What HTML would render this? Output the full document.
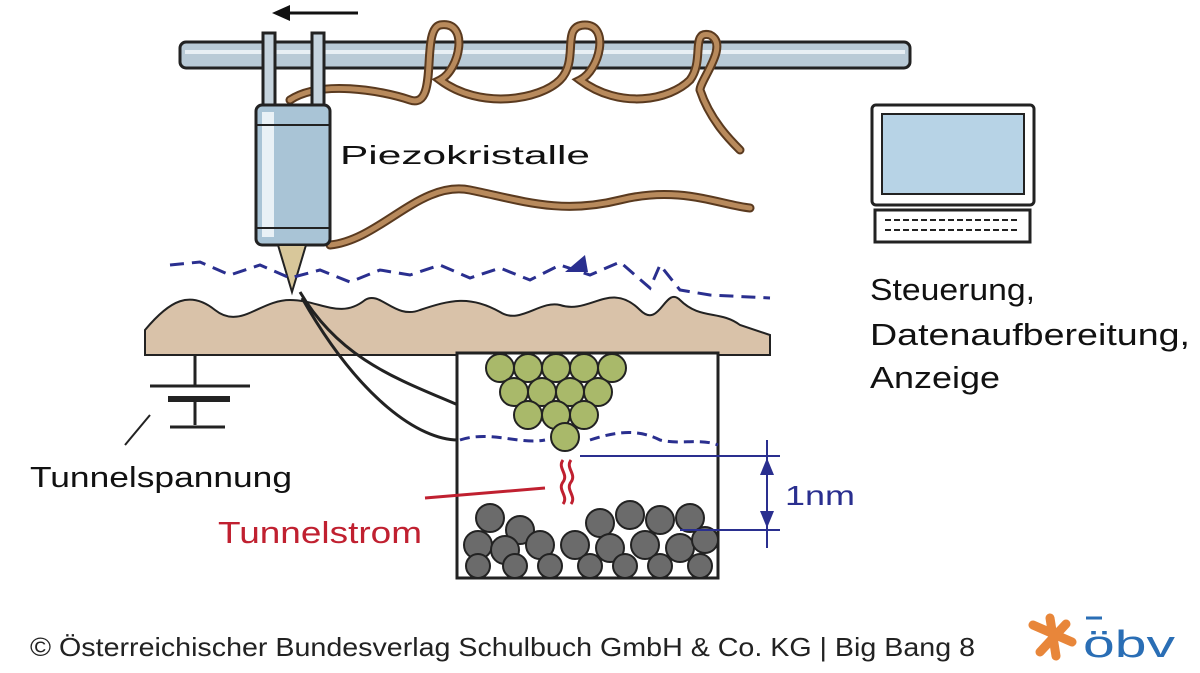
<!DOCTYPE html>
<html><head><meta charset="utf-8"><style>
body{margin:0;background:#fff;}
svg{display:block;}
text{font-family:"Liberation Sans",sans-serif;}
</style></head><body>
<svg width="1200" height="673" viewBox="0 0 1200 673" xmlns="http://www.w3.org/2000/svg">
<line x1="358" y1="13" x2="285" y2="13" stroke="#111" stroke-width="3"/>
<polygon points="272,13 290,5 290,21" fill="#111"/>
<rect x="180" y="42" width="730" height="26" rx="6" fill="#b9cad6" stroke="#222" stroke-width="3"/>
<line x1="185" y1="52" x2="905" y2="52" stroke="#e8eff4" stroke-width="4"/>
<g fill="none" stroke="#5a3a1f" stroke-width="9" stroke-linecap="round">
<path d="M290,100 C320,80 380,90 410,100 C440,110 420,30 440,25 C470,20 460,70 440,80 C480,110 540,100 560,80 C580,60 560,25 585,25 C610,25 600,70 580,80 C620,110 670,100 690,80 C705,60 690,30 710,35 C730,45 700,80 700,90 C710,120 730,140 740,150"/>
<path d="M330,245 C380,240 420,180 470,190 C520,200 560,215 620,200 C680,185 720,205 750,208"/>
</g>
<g fill="none" stroke="#b88a5c" stroke-width="5" stroke-linecap="round">
<path d="M290,100 C320,80 380,90 410,100 C440,110 420,30 440,25 C470,20 460,70 440,80 C480,110 540,100 560,80 C580,60 560,25 585,25 C610,25 600,70 580,80 C620,110 670,100 690,80 C705,60 690,30 710,35 C730,45 700,80 700,90 C710,120 730,140 740,150"/>
<path d="M330,245 C380,240 420,180 470,190 C520,200 560,215 620,200 C680,185 720,205 750,208"/>
</g>
<rect x="263" y="33" width="12" height="75" fill="#c6d4de" stroke="#222" stroke-width="3"/>
<rect x="312" y="33" width="12" height="75" fill="#c6d4de" stroke="#222" stroke-width="3"/>
<rect x="256" y="105" width="74" height="140" rx="6" fill="#a9c4d6" stroke="#222" stroke-width="3"/>
<rect x="262" y="112" width="12" height="125" fill="#e9f1f6"/>
<line x1="256" y1="125" x2="330" y2="125" stroke="#222" stroke-width="2"/>
<line x1="256" y1="228" x2="330" y2="228" stroke="#222" stroke-width="2"/>
<polygon points="278,245 306,245 292,292" fill="#d8c79a" stroke="#222" stroke-width="2"/>
<text x="340" y="164" font-size="26" fill="#111" textLength="250" lengthAdjust="spacingAndGlyphs">Piezokristalle</text>
<path d="M145,355 L145,330 C170,300 190,290 215,310 C240,330 260,300 290,300 C320,300 340,320 365,300 C380,290 395,320 420,310 C450,300 470,295 500,312 C520,325 540,300 560,305 C590,315 610,280 640,310 C660,330 665,285 680,300 C700,320 720,310 740,325 L770,335 L770,355 Z" fill="#d9c2a9" stroke="#222" stroke-width="2"/>
<path d="M170,265 L200,262 L230,275 L260,265 L290,278 L320,270 L350,282 L380,270 L410,275 L440,265 L470,278 L500,268 L530,280 L560,265 L590,275 L620,262 L650,288 L660,265 L680,290 L710,295 L770,298" fill="none" stroke="#2a2f8f" stroke-width="3" stroke-dasharray="14,8"/>
<polygon points="565,272 585,255 588,272" fill="#2a2f8f"/>
<path d="M300,292 C340,360 400,380 458,405" fill="none" stroke="#222" stroke-width="3"/>
<path d="M302,298 C360,400 420,440 458,440" fill="none" stroke="#222" stroke-width="3"/>
<rect x="457" y="353" width="261" height="225" fill="#fff" stroke="#222" stroke-width="3"/>
<g fill="#a9b96a" stroke="#222" stroke-width="2">
<circle cx="500" cy="368" r="14"/><circle cx="528" cy="368" r="14"/><circle cx="556" cy="368" r="14"/><circle cx="584" cy="368" r="14"/><circle cx="612" cy="368" r="14"/>
<circle cx="514" cy="392" r="14"/><circle cx="542" cy="392" r="14"/><circle cx="570" cy="392" r="14"/><circle cx="598" cy="392" r="14"/>
<circle cx="528" cy="415" r="14"/><circle cx="556" cy="415" r="14"/><circle cx="584" cy="415" r="14"/>
<circle cx="565" cy="437" r="14"/>
</g>
<path d="M460,440 C490,430 520,445 545,440 M590,440 C620,430 640,430 660,440 C680,445 700,438 718,445" fill="none" stroke="#2a2f8f" stroke-width="3" stroke-dasharray="10,6"/>
<path d="M563,460 c-6,8 6,14 0,22 c-6,8 6,14 0,22 M571,460 c-6,8 6,14 0,22 c-6,8 6,14 0,22" fill="none" stroke="#c02030" stroke-width="3"/>
<g fill="#6b6b6b" stroke="#222" stroke-width="2">
<circle cx="490" cy="518" r="14"/><circle cx="520" cy="530" r="14"/><circle cx="600" cy="523" r="14"/><circle cx="630" cy="515" r="14"/><circle cx="660" cy="520" r="14"/><circle cx="690" cy="518" r="14"/>
<circle cx="478" cy="545" r="14"/><circle cx="505" cy="550" r="14"/><circle cx="540" cy="545" r="14"/><circle cx="575" cy="545" r="14"/><circle cx="610" cy="548" r="14"/><circle cx="645" cy="545" r="14"/><circle cx="680" cy="548" r="14"/><circle cx="705" cy="540" r="13"/>
<circle cx="478" cy="566" r="12"/><circle cx="515" cy="566" r="12"/><circle cx="550" cy="566" r="12"/><circle cx="590" cy="566" r="12"/><circle cx="625" cy="566" r="12"/><circle cx="660" cy="566" r="12"/><circle cx="700" cy="566" r="12"/>
</g>
<line x1="580" y1="456" x2="780" y2="456" stroke="#2a2f8f" stroke-width="2"/>
<line x1="680" y1="530" x2="780" y2="530" stroke="#2a2f8f" stroke-width="2"/>
<line x1="767" y1="440" x2="767" y2="548" stroke="#2a2f8f" stroke-width="2"/>
<polygon points="767,458 760,475 774,475" fill="#2a2f8f"/>
<polygon points="767,528 760,511 774,511" fill="#2a2f8f"/>
<text x="785" y="505" font-size="28" fill="#2a2f8f" textLength="70" lengthAdjust="spacingAndGlyphs">1nm</text>
<line x1="195" y1="355" x2="195" y2="386" stroke="#222" stroke-width="3"/>
<line x1="150" y1="386" x2="250" y2="386" stroke="#222" stroke-width="3"/>
<line x1="168" y1="399" x2="230" y2="399" stroke="#222" stroke-width="6"/>
<line x1="195" y1="399" x2="195" y2="425" stroke="#222" stroke-width="3"/>
<line x1="170" y1="427" x2="225" y2="427" stroke="#222" stroke-width="3"/>
<line x1="150" y1="415" x2="125" y2="445" stroke="#222" stroke-width="2"/>
<text x="30" y="487" font-size="29" fill="#111" textLength="262" lengthAdjust="spacingAndGlyphs">Tunnelspannung</text>
<line x1="425" y1="498" x2="545" y2="488" stroke="#c02030" stroke-width="3"/>
<text x="218" y="543" font-size="31" fill="#c02030" textLength="204" lengthAdjust="spacingAndGlyphs">Tunnelstrom</text>
<rect x="872" y="105" width="162" height="100" rx="4" fill="#fff" stroke="#222" stroke-width="3"/>
<rect x="882" y="114" width="142" height="80" fill="#b7d3e6" stroke="#222" stroke-width="2"/>
<rect x="875" y="210" width="155" height="32" fill="#fff" stroke="#222" stroke-width="3"/>
<line x1="885" y1="220" x2="1020" y2="220" stroke="#222" stroke-width="2" stroke-dasharray="6,3"/>
<line x1="885" y1="230" x2="1020" y2="230" stroke="#222" stroke-width="2" stroke-dasharray="6,3"/>
<text x="870" y="300" font-size="31" fill="#111" textLength="165" lengthAdjust="spacingAndGlyphs">Steuerung,</text>
<text x="870" y="345" font-size="31" fill="#111" textLength="320" lengthAdjust="spacingAndGlyphs">Datenaufbereitung,</text>
<text x="870" y="388" font-size="31" fill="#111" textLength="130" lengthAdjust="spacingAndGlyphs">Anzeige</text>
<text x="30" y="656" font-size="26" fill="#222" textLength="945" lengthAdjust="spacingAndGlyphs">© Österreichischer Bundesverlag Schulbuch GmbH &amp; Co. KG |  Big Bang 8</text>
<g stroke="#e8863a" stroke-width="9" stroke-linecap="round">
<line x1="1033" y1="625" x2="1072" y2="642"/>
<line x1="1050" y1="618" x2="1056" y2="656"/>
<line x1="1040" y1="652" x2="1066" y2="624"/>
</g>
<text x="1083" y="657" font-size="38" fill="#2a6eb5" textLength="92" lengthAdjust="spacingAndGlyphs">öbv</text>
<line x1="1086" y1="618" x2="1102" y2="618" stroke="#2a6eb5" stroke-width="3"/>
</svg>
</body></html>
